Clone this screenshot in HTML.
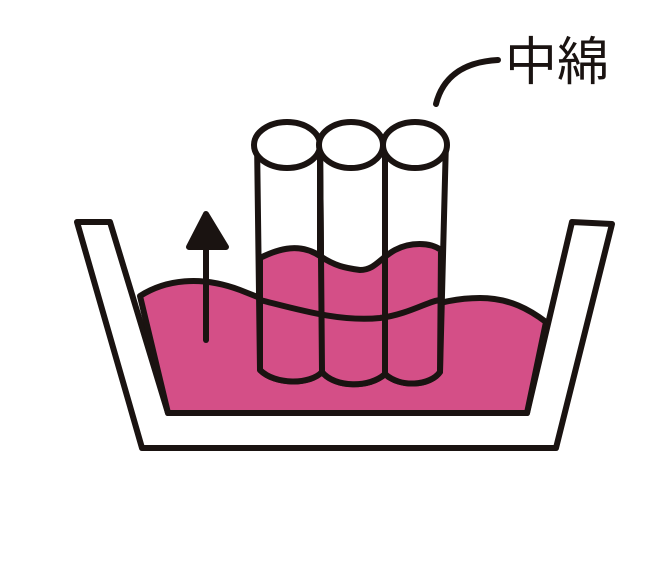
<!DOCTYPE html>
<html><head><meta charset="utf-8"><style>
html,body{margin:0;padding:0;background:#fff;}
svg{display:block;}
</style></head><body>
<svg width="669" height="579" viewBox="0 0 669 579" xmlns="http://www.w3.org/2000/svg">
<g stroke="#1a1311" stroke-width="6" stroke-linejoin="round" stroke-linecap="round">
<path d="M77,222 L110,222 L168,413 L527,413 L572,222 L612,224 L556,448 L142,448 Z" fill="#fff"/>
<path d="M140,296 C165,280 200,275 240,290 C290,310 320,322 380,318 C420,312 440,298 480,298 C510,298 530,310 546,322 L527,413 L168,413 Z" fill="#d44f87"/>
<path d="M257,140 L260,370 C275,385 310,385 320,372 L320,140 Z" fill="#fff"/>
<path d="M320,140 L322,372 C335,388 370,388 385,374 L385,140 Z" fill="#fff"/>
<path d="M385,140 L385,374 C400,388 430,386 440,372 L446,140 Z" fill="#fff"/>
<path d="M260,258 C280,248 300,243 320,256 C335,266 345,268 360,270 C375,270 380,258 395,250 C410,242 430,242 441,250 L440,372 C430,386 400,388 385,374 C370,388 335,388 322,372 C310,385 275,385 260,370 Z" fill="#d44f87"/>
<path d="M260,300 C300,310 340,322 380,318 C410,314 430,300 441,300" fill="none"/>
<line x1="320" y1="140" x2="322" y2="372"/>
<line x1="385" y1="140" x2="385" y2="374"/>
<ellipse cx="287" cy="145" rx="33" ry="23" fill="#fff"/>
<ellipse cx="351" cy="145" rx="32" ry="23" fill="#fff"/>
<ellipse cx="415" cy="145" rx="32" ry="23" fill="#fff"/>
<line x1="206" y1="340" x2="206" y2="245"/>
<path d="M206,214 L189,247 L226,247 Z" fill="#1a1311"/>
<path d="M436,104 C442,80 460,62 498,60" fill="none"/>
</g>
<text x="505" y="80" font-family="'Liberation Sans','Noto Sans CJK JP',sans-serif" font-size="52" fill="#1a1311">中綿</text>
</svg>
</body></html>
